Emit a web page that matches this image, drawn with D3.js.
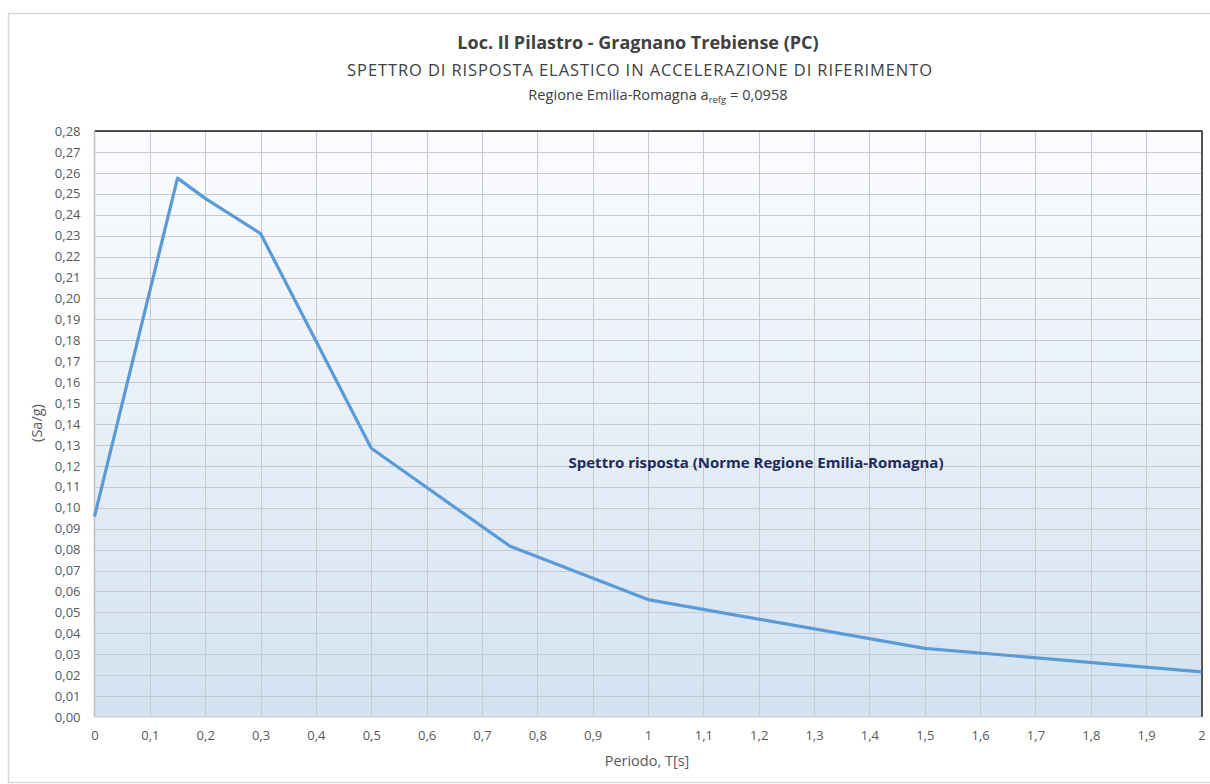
<!DOCTYPE html>
<html>
<head>
<meta charset="utf-8">
<script src="https://cdn.jsdelivr.net/npm/d3@7"></script>
<style>
  html, body { margin: 0; padding: 0; background: #ffffff; }
  svg { display: block; }
  text { font-family: "Open Sans", "Noto Sans", sans-serif; }
</style>
</head>
<body>
<svg id="chart" width="1210" height="784"></svg>
<script>
// Periods T [s] and spectral acceleration Sa/g
const periods = [0, 0.15, 0.2, 0.3, 0.5, 0.75, 1.0, 1.5, 2.0];
const saValues = [0.0958, 0.2575, 0.2478, 0.231, 0.1284, 0.0817, 0.0561, 0.0328, 0.0216];

const xTicks = [0, 0.1, 0.2, 0.3, 0.4, 0.5, 0.6, 0.7, 0.8, 0.9, 1.0, 1.1, 1.2, 1.3, 1.4, 1.5, 1.6, 1.7, 1.8, 1.9, 2.0];
const yTicks = d3.range(0, 29).map(i => i / 100);

const titleText = "Loc. Il Pilastro - Gragnano Trebiense (PC)";
const subtitleText = "SPETTRO DI RISPOSTA ELASTICO IN ACCELERAZIONE DI RIFERIMENTO";
const seriesLabel = "Spettro risposta (Norme Regione Emilia-Romagna)";

const svg = d3.select("#chart");
const plot = { left: 94.5, right: 1201.5, top: 131, bottom: 717 };

const comma = v => v.toString().replace(".", ",");

// outer chart frame
svg.append("rect")
  .attr("x", 8.5).attr("y", 13.5)
  .attr("width", 1210).attr("height", 769)
  .attr("fill", "#ffffff")
  .attr("stroke", "#d9d9d9").attr("stroke-width", 1.5);

// titles
svg.append("text")
  .attr("x", 638).attr("y", 49)
  .attr("text-anchor", "middle")
  .attr("font-size", 18).attr("font-weight", "bold")
  .attr("fill", "#404040")
  .text(titleText);

svg.append("text")
  .attr("x", 640).attr("y", 76)
  .attr("text-anchor", "middle")
  .attr("font-size", 16.5).attr("letter-spacing", 0.9)
  .attr("fill", "#404040")
  .text(subtitleText);

const sub2 = svg.append("text")
  .attr("x", 658).attr("y", 100)
  .attr("text-anchor", "middle")
  .attr("font-size", 14.6)
  .attr("fill", "#404040");
sub2.append("tspan").text("Regione Emilia-Romagna a");
sub2.append("tspan").attr("font-size", 9.5).attr("dy", 3).text("refg");
sub2.append("tspan").attr("dy", -3).text(" = 0,0958");

// scales
const x = d3.scaleLinear().domain([0, 2]).range([plot.left, plot.right]);
const y = d3.scaleLinear().domain([0, 0.28]).range([plot.bottom, plot.top]);

// plot background gradient
const defs = svg.append("defs");
const grad = defs.append("linearGradient")
  .attr("id", "plotBg").attr("x1", 0).attr("y1", 0).attr("x2", 0).attr("y2", 1);
grad.append("stop").attr("offset", "0%").attr("stop-color", "#fbfcfe");
grad.append("stop").attr("offset", "100%").attr("stop-color", "#d3e2f1");

svg.append("rect")
  .attr("x", plot.left).attr("y", plot.top)
  .attr("width", plot.right - plot.left).attr("height", plot.bottom - plot.top)
  .attr("fill", "url(#plotBg)");

// gridlines
const grid = svg.append("g").attr("stroke", "#c6cacf").attr("stroke-width", 1);
grid.selectAll("line.h").data(yTicks.slice(1)).join("line")
  .attr("x1", plot.left).attr("x2", plot.right)
  .attr("y1", d => Math.round(y(d)) + 0.5).attr("y2", d => Math.round(y(d)) + 0.5);
grid.selectAll("line.v").data(xTicks.slice(1, -1)).join("line")
  .attr("y1", plot.top).attr("y2", plot.bottom)
  .attr("x1", d => Math.round(x(d)) + 0.5).attr("x2", d => Math.round(x(d)) + 0.5);

// plot frame: top dark, right dark, left/bottom light
svg.append("line")
  .attr("x1", plot.left).attr("x2", plot.right + 1)
  .attr("y1", plot.top).attr("y2", plot.top)
  .attr("stroke", "#1a1a1a").attr("stroke-width", 1.5);
svg.append("line")
  .attr("x1", plot.right + 0.5).attr("x2", plot.right + 0.5)
  .attr("y1", plot.top).attr("y2", plot.bottom)
  .attr("stroke", "#555555").attr("stroke-width", 2);
svg.append("line")
  .attr("x1", plot.left).attr("x2", plot.left)
  .attr("y1", plot.top).attr("y2", plot.bottom)
  .attr("stroke", "#bfbfbf").attr("stroke-width", 1.5);
svg.append("line")
  .attr("x1", plot.left).attr("x2", plot.right)
  .attr("y1", plot.bottom).attr("y2", plot.bottom)
  .attr("stroke", "#c6cacf").attr("stroke-width", 1);

// axes
const yAxis = d3.axisLeft(y).tickValues(yTicks).tickSize(0).tickPadding(14)
  .tickFormat(d => d3.format(".2f")(d).replace(".", ","));
const gy = svg.append("g").attr("transform", `translate(${plot.left},0)`).call(yAxis);
gy.select(".domain").remove();
gy.selectAll("text").attr("font-size", 13).attr("fill", "#595959")
  .attr("font-family", "'Open Sans', sans-serif");

const xAxis = d3.axisBottom(x).tickValues(xTicks).tickSize(0).tickPadding(14)
  .tickFormat(d => comma(+d.toFixed(1)));
const gx = svg.append("g").attr("transform", `translate(0,${plot.bottom})`).call(xAxis);
gx.select(".domain").remove();
gx.selectAll("text").attr("font-size", 13).attr("fill", "#595959")
  .attr("font-family", "'Open Sans', sans-serif");

// axis titles
svg.append("text")
  .attr("transform", `translate(42,423) rotate(-90)`)
  .attr("text-anchor", "middle")
  .attr("font-size", 14.5).attr("fill", "#595959")
  .text("(Sa/g)");

svg.append("text")
  .attr("x", 647).attr("y", 766)
  .attr("text-anchor", "middle")
  .attr("font-size", 14.5).attr("fill", "#595959")
  .text("Periodo, T[s]");

// spectrum line
const pts = periods.map((t, i) => [t, saValues[i]]);
const line = d3.line().x(d => x(d[0])).y(d => y(d[1]));
svg.append("path")
  .datum(pts)
  .attr("d", line)
  .attr("fill", "none")
  .attr("stroke", "#5b9bd5")
  .attr("stroke-width", 3.2)
  .attr("stroke-linejoin", "round");

// series label
svg.append("text")
  .attr("x", 756).attr("y", 468)
  .attr("text-anchor", "middle")
  .attr("font-size", 15).attr("font-weight", "bold")
  .attr("fill", "#1f2a5c")
  .text(seriesLabel);
</script>
</body>
</html>
